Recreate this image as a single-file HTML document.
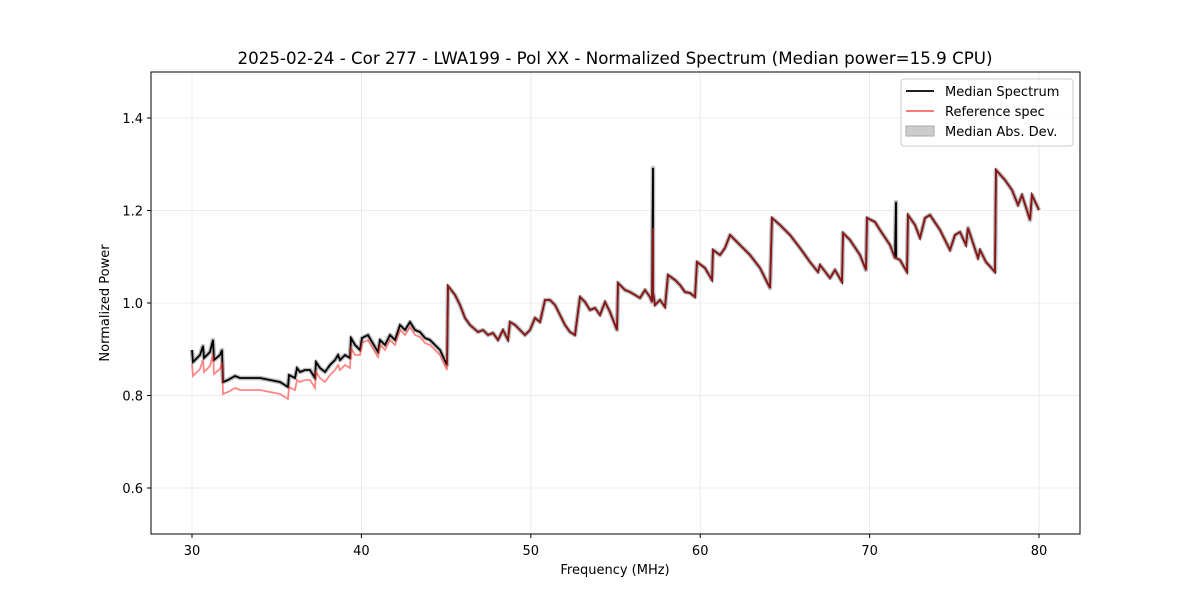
<!DOCTYPE html>
<html><head><meta charset="utf-8"><style>
body{margin:0;background:#fff;}
svg{display:block;font-family:"DejaVu Sans","Liberation Sans",sans-serif;}
</style></head><body>
<svg id="s" width="1200" height="600" viewBox="0 0 1200 600">
<rect width="1200" height="600" fill="#fff"/>
<g id="grid" stroke="#e6e6e6" stroke-width="0.8"></g>
<g id="data"></g>
<rect x="151" y="72" width="929" height="462" fill="none" stroke="#000" stroke-width="1"/>
<g id="ticks" font-size="13" fill="#000"></g>
<text x="615" y="64" font-size="16.7" text-anchor="middle" textLength="755" lengthAdjust="spacingAndGlyphs">2025-02-24 - Cor 277 - LWA199 - Pol XX - Normalized Spectrum (Median power=15.9 CPU)</text>
<text x="615" y="574" font-size="13" text-anchor="middle">Frequency (MHz)</text>
<text transform="translate(109,303) rotate(-90)" font-size="13" text-anchor="middle">Normalized Power</text>
<g>
<rect x="901" y="79" width="172" height="67" rx="3" fill="#fff" fill-opacity="0.8" stroke="#ccc"/>
<line x1="906" y1="91" x2="934" y2="91" stroke="#000" stroke-width="1.8"/>
<text x="945" y="96" font-size="13">Median Spectrum</text>
<line x1="906" y1="111" x2="934" y2="111" stroke="#f66" stroke-width="1.8"/>
<text x="945" y="116" font-size="13">Reference spec</text>
<rect x="906" y="126" width="28" height="10" fill="#ccc" stroke="#aaa"/>
<text x="945" y="136" font-size="13">Median Abs. Dev.</text>
</g>
</svg>
<script>
const NS="http://www.w3.org/2000/svg";
function el(t,a,p,txt){const e=document.createElementNS(NS,t);for(const k in a)e.setAttribute(k,a[k]);if(txt)e.textContent=txt;document.getElementById(p).appendChild(e);return e;}
for(let f=30;f<=80;f+=10){const x=192+(f-30)*16.94;el('line',{x1:x,y1:72,x2:x,y2:534},'grid');el('line',{x1:x,y1:534,x2:x,y2:538,stroke:'#000'},'ticks');el('text',{x:x,y:555,'text-anchor':'middle'},'ticks',''+f);}
for(const v of [0.6,0.8,1.0,1.2,1.4]){const y=303-(v-1)*462.5;el('line',{x1:151,y1:y,x2:1080,y2:y},'grid');el('line',{x1:147,y1:y,x2:151,y2:y,stroke:'#000'},'ticks');el('text',{x:143,y:y+5,'text-anchor':'end'},'ticks',v.toFixed(1));}
const P=[192,350,193,362,200,355,203,346,204,358,210,352,213,340,214,360,220,355,222,350,223,382,228,380,235,376,240,378,250,378,260,378,270,380,280,382,288,387,289,375,295,378,297,368,300,372,305,370,310,370,315,378,316,362,320,368,325,372,330,365,335,360,338,355,340,360,345,355,350,358,351,338,355,345,360,350,362,338,368,335,372,342,378,352,380,340,385,345,390,335,395,340,400,325,405,330,410,322,415,330,420,332,425,338,430,340,440,350,447,365,448,286,455,295,460,305,465,318,470,325,478,332,483,330,488,335,493,333,498,340,503,330,508,340,510,322,515,325,520,330,525,335,530,330,535,318,540,322,545,300,550,300,555,305,560,315,565,325,570,332,575,335,580,297,585,302,590,310,595,308,600,315,605,302,610,312,617,330,618,283,625,290,630,292,640,298,645,290,650,297,652,302,653,168,653,292,655,305,660,300,665,307,668,275,675,280,680,285,685,292,690,293,695,297,697,262,705,268,712,280,713,250,720,255,725,248,730,235,740,245,750,255,760,268,770,288,772,218,780,225,790,235,800,248,810,262,818,272,820,265,830,278,835,270,842,282,843,233,850,240,860,255,866,270,867,218,875,222,880,230,890,245,895,258,896,202,896,258,900,260,907,272,908,215,915,225,920,238,925,218,930,215,940,230,950,250,955,235,960,232,966,245,968,228,972,240,978,258,980,250,986,262,995,272,996,170,1005,180,1012,190,1018,205,1022,195,1030,220,1032,195,1039,210];
let b=[],r=[];
function off(x){if(x<222)return 14;if(x<300)return 12;if(x<360)return 10;if(x<448)return 5;return 0;}
for(let i=0;i<P.length;i+=2){const x=P[i],y=P[i+1];b.push(x+','+y);let ry=y+off(x);if(x==653&&y<200)ry=228;if(x==896&&y<210)ry=258;r.push(x+','+ry);}
el('polyline',{points:b.join(' '),fill:'none',stroke:'#bbb','stroke-width':4.5,'stroke-linejoin':'round'},'data');
el('polyline',{points:b.join(' '),fill:'none',stroke:'#000','stroke-width':1.8},'data');
el('polyline',{points:r.join(' '),fill:'none',stroke:'#f22','stroke-width':1.8,'stroke-opacity':0.55},'data');
</script>
</body></html>
